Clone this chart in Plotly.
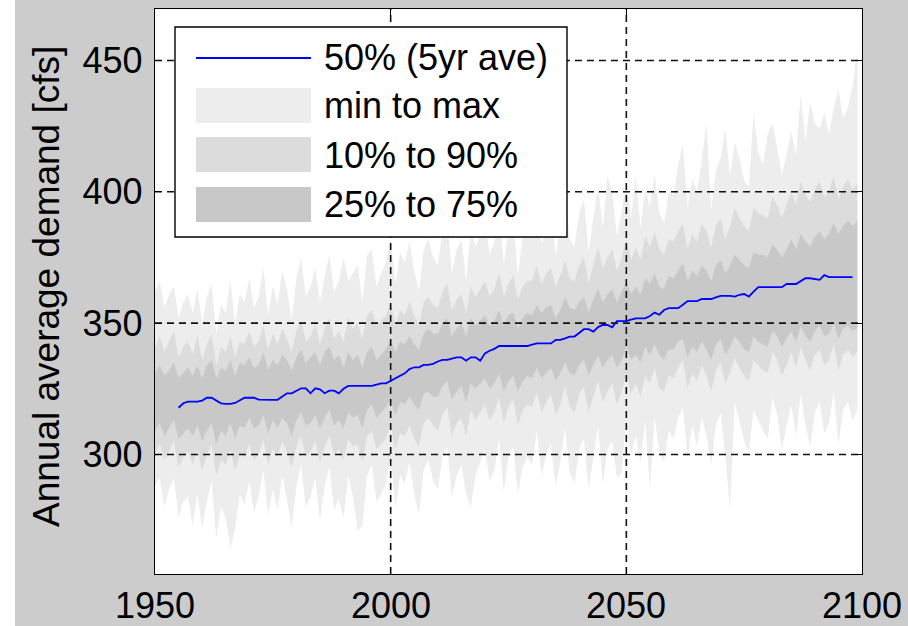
import plotly.graph_objects as go

# ---- data -------------------------------------------------------------
years = list(range(1950, 2100))
median_years = list(range(1955, 2100))

demand_min = [
    288, 291, 280, 287, 291, 276, 282, 284, 273, 285,
    272, 282, 290, 268, 280, 276, 264, 272, 285, 281,
    290, 278, 284, 294, 277, 287, 279, 292, 283, 272,
    288, 296, 280, 284, 291, 275, 288, 295, 279, 283,
    276, 292, 284, 271, 273, 292, 296, 282, 285, 289,
    299, 280, 292, 289, 297, 285, 277, 294, 298, 290,
    287, 299, 303, 284, 292, 296, 285, 280, 292, 297,
    302, 290, 294, 306, 286, 299, 303, 285, 295, 299,
    296, 309, 292, 300, 304, 288, 297, 310, 293, 289,
    302, 306, 287, 299, 311, 289, 302, 305, 291, 293,
    314, 300, 307, 297, 313, 287, 314, 301, 297, 309,
    306, 314, 318, 299, 311, 303, 314, 307, 296, 311,
    316, 300, 279, 320, 313, 305, 301, 317, 313, 309,
    306, 322, 315, 302, 311, 319, 307, 323, 311, 303,
    316, 320, 308, 312, 324, 304, 317, 320, 313, 317,
]

demand_p10 = [
    300, 304, 298, 301, 305, 295, 299, 301, 296, 302,
    294, 300, 304, 292, 298, 296, 302, 294, 300, 299,
    304, 298, 300, 306, 296, 302, 299, 305, 301, 295,
    303, 307, 299, 301, 305, 297, 303, 307, 300, 302,
    298, 306, 303, 304, 297, 307, 309, 302, 304, 306,
    311, 302, 308, 307, 311, 306, 303, 312, 314, 311,
    309, 315, 318, 307, 312, 314, 307, 317, 313, 316,
    319, 313, 316, 322, 312, 318, 321, 311, 317, 319,
    318, 324, 316, 320, 323, 315, 319, 326, 318, 316,
    323, 326, 316, 322, 328, 320, 324, 327, 319, 324,
    331, 323, 327, 322, 330, 327, 333, 325, 324, 330,
    329, 333, 336, 325, 331, 328, 334, 330, 324, 332,
    335, 327, 331, 337, 333, 330, 328, 336, 334, 332,
    331, 339, 336, 330, 334, 339, 333, 341, 336, 332,
    338, 340, 334, 336, 342, 332, 338, 340, 337, 339,
]

demand_p25 = [
    309, 312, 307, 310, 313, 306, 308, 310, 307, 311,
    305, 309, 312, 304, 309, 307, 312, 306, 311, 310,
    314, 310, 311, 315, 308, 313, 310, 314, 312, 307,
    313, 316, 311, 312, 315, 310, 314, 317, 311, 313,
    310, 316, 314, 315, 310, 317, 319, 314, 316, 318,
    321, 315, 320, 319, 322, 319, 317, 323, 324, 322,
    322, 326, 328, 321, 324, 326, 320, 327, 325, 327,
    329, 325, 327, 331, 324, 328, 330, 324, 328, 330,
    329, 333, 329, 331, 333, 328, 331, 335, 331, 330,
    334, 336, 330, 334, 338, 333, 336, 338, 333, 336,
    341, 336, 338, 335, 341, 338, 342, 338, 336, 340,
    340, 343, 344, 337, 341, 339, 343, 340, 336, 342,
    344, 338, 341, 345, 343, 340, 339, 345, 343, 342,
    341, 347, 345, 341, 344, 347, 343, 349, 345, 343,
    347, 349, 345, 346, 350, 344, 348, 349, 347, 348,
]

demand_p75 = [
    331, 334, 330, 332, 335, 329, 331, 333, 330, 334,
    329, 334, 336, 329, 333, 332, 336, 330, 335, 334,
    337, 333, 334, 339, 332, 336, 334, 338, 336, 332,
    337, 340, 335, 337, 339, 334, 339, 341, 336, 338,
    333, 339, 336, 338, 333, 339, 341, 336, 338, 340,
    344, 339, 343, 342, 345, 342, 340, 346, 348, 346,
    346, 350, 352, 345, 348, 350, 345, 352, 349, 351,
    353, 349, 351, 355, 349, 353, 354, 348, 352, 354,
    353, 357, 354, 356, 357, 352, 355, 360, 356, 355,
    358, 360, 354, 359, 363, 358, 361, 363, 358, 362,
    366, 361, 364, 361, 367, 365, 369, 364, 363, 368,
    367, 370, 373, 366, 370, 368, 372, 370, 366, 372,
    374, 369, 372, 376, 374, 372, 371, 377, 376, 376,
    375, 380, 378, 375, 378, 382, 378, 384, 381, 379,
    383, 385, 382, 384, 388, 384, 387, 389, 387, 389,
]

demand_p90 = [
    341, 345, 339, 343, 347, 337, 341, 343, 338, 345,
    336, 342, 346, 334, 341, 339, 345, 337, 343, 342,
    347, 341, 343, 349, 340, 346, 342, 348, 344, 339,
    347, 351, 343, 345, 350, 342, 348, 352, 344, 347,
    343, 352, 348, 350, 344, 353, 355, 349, 351, 353,
    358, 349, 355, 353, 358, 353, 349, 358, 360, 357,
    356, 362, 365, 355, 359, 361, 354, 364, 360, 363,
    366, 360, 363, 369, 360, 365, 368, 359, 364, 366,
    366, 372, 365, 369, 371, 364, 368, 374, 367, 366,
    372, 375, 365, 372, 379, 371, 375, 378, 370, 375,
    382, 374, 379, 374, 383, 379, 385, 378, 376, 382,
    381, 385, 388, 378, 384, 381, 388, 385, 379, 387,
    390, 382, 387, 394, 390, 387, 385, 394, 392, 391,
    390, 398, 395, 390, 395, 400, 395, 404, 399, 396,
    401, 404, 398, 400, 406, 397, 402, 405, 401, 403,
]

demand_max = [
    362, 366, 356, 361, 364, 352, 358, 361, 354, 363,
    350, 360, 365, 346, 357, 354, 366, 350, 361, 358,
    367, 356, 360, 371, 353, 364, 357, 370, 363, 351,
    367, 375, 360, 364, 371, 358, 368, 376, 362, 366,
    375, 366, 369, 372, 358, 376, 378, 364, 369, 373,
    382, 365, 377, 373, 381, 370, 362, 378, 382, 375,
    372, 385, 389, 369, 378, 382, 366, 386, 379, 384,
    389, 376, 381, 394, 372, 386, 390, 368, 383, 387,
    383, 396, 380, 388, 393, 376, 386, 399, 382, 379,
    392, 397, 377, 390, 402, 386, 406, 400, 383, 392,
    404, 390, 406, 386, 401, 394, 407, 392, 388, 400,
    399, 410, 418, 394, 405, 400, 412, 426, 393, 408,
    413, 424, 406, 419, 413, 404, 402, 430, 415, 410,
    422, 426, 417, 406, 414, 423, 414, 437, 419, 434,
    426, 424, 430, 422, 432, 439, 428, 432, 440, 454,
]

# 5-year running average of the 50th percentile
median_5yr = [
    317.8, 319.5, 320.1, 320.1, 320.1,
    320.5, 321.6, 321.6, 320.5, 319.5, 319.3, 319.3, 319.6, 320.6, 321.6,
    321.6, 321.6, 320.9, 320.8, 320.8, 320.8, 320.8, 322.0, 323.3, 323.3,
    324.2, 325.2, 325.2, 323.3, 325.2, 324.8, 323.3, 324.3, 324.3, 323.3,
    325.0, 326.1, 326.1, 326.1, 326.1, 326.1, 326.1, 326.6, 327.1, 327.1,
    328.0, 329.0, 330.0, 330.9, 332.5, 333.2, 333.2, 334.1, 334.1, 334.5,
    335.4, 336.0, 336.0, 336.5, 337.0, 337.0, 335.7, 337.0, 337.0, 335.7,
    338.5, 339.5, 340.2, 341.3, 341.3, 341.3, 341.3, 341.3, 341.3, 341.3,
    341.8, 342.3, 342.3, 342.3, 342.3, 343.6, 343.6, 344.2, 344.9, 344.9,
    346.3, 347.7, 347.7, 346.8, 348.5, 349.3, 349.3, 348.4, 350.8, 350.8,
    350.8, 351.3, 351.8, 351.8, 351.8, 352.7, 354.0, 353.2, 355.0, 355.7,
    355.7, 355.7, 357.0, 358.4, 358.4, 358.4, 359.2, 359.2, 359.2, 359.8,
    360.4, 360.4, 360.4, 360.1, 360.8, 361.1, 360.1, 362.0, 363.7, 363.7,
    363.7, 363.7, 363.7, 363.7, 364.9, 364.9, 364.9, 366.0, 367.1, 367.1,
    366.8, 366.5, 368.3, 367.5, 367.5, 367.5, 367.5, 367.5, 367.5,
]

x_ticks = [1950, 2000, 2050, 2100]
y_ticks = [300, 350, 400, 450]
x_range = [1950, 2100]
y_range = [254.5, 469.6]

legend_labels = ["50% (5yr ave)", "min to max", "10% to 90%", "25% to 75%"]

# ---- styling -------------------------------------------------------------
FONT = "Liberation Sans, Arial, sans-serif"
FIG_BG = "#cccccc"
C_MINMAX = "#ededed"
C_10_90 = "#dcdcdc"
C_25_75 = "#c8c8c8"
C_MEDIAN = "#0000ff"
GRID_DASH = "7px,5px"

W, H = 908, 626
L, R, T, B = 155, 862, 9, 574   # plot area in pixels


def px_x(p):
    return (p - L) / (R - L)


def px_y(p):
    return (B - p) / (B - T)


fig = go.Figure()

bands = [
    (demand_min, demand_max, C_MINMAX),
    (demand_p10, demand_p90, C_10_90),
    (demand_p25, demand_p75, C_25_75),
]
for lower, upper, colour in bands:
    fig.add_trace(go.Scatter(x=years, y=lower, mode="lines",
                             line=dict(width=0, color=colour),
                             hoverinfo="skip", showlegend=False))
    fig.add_trace(go.Scatter(x=years, y=upper, mode="lines", fill="tonexty",
                             fillcolor=colour, line=dict(width=0, color=colour),
                             hoverinfo="skip", showlegend=False))

# dashed grid drawn over the shaded bands
for xv in x_ticks[1:-1]:
    fig.add_trace(go.Scatter(x=[xv, xv], y=y_range, mode="lines",
                             line=dict(color="#111111", width=1.6, dash=GRID_DASH),
                             hoverinfo="skip", showlegend=False))
for yv in y_ticks:
    fig.add_trace(go.Scatter(x=x_range, y=[yv, yv], mode="lines",
                             line=dict(color="#111111", width=1.6, dash=GRID_DASH),
                             hoverinfo="skip", showlegend=False))

fig.add_trace(go.Scatter(x=median_years, y=median_5yr, mode="lines",
                         line=dict(color=C_MEDIAN, width=1.8),
                         hoverinfo="skip", showlegend=False))

axis_common = dict(
    showline=True, linecolor="black", linewidth=1.4, mirror="ticks",
    ticks="inside", ticklen=7, tickwidth=1.4, tickcolor="black",
    showgrid=False, zeroline=False, layer="above traces", automargin=False,
    tickfont=dict(family=FONT, size=36, color="black"),
)

# x tick labels are placed as annotations just under the axis
fig.update_xaxes(range=x_range, tickvals=x_ticks, showticklabels=False,
                 **axis_common)
fig.update_yaxes(range=y_range, tickvals=y_ticks,
                 ticktext=[str(v) for v in y_ticks], ticklabelstandoff=4,
                 **axis_common)

shapes = []
annotations = []

# thin white strip along the left edge of the figure
shapes.append(dict(type="rect", xref="paper", yref="paper",
                   x0=px_x(-2), x1=px_x(15), y0=px_y(H + 2), y1=px_y(-2),
                   fillcolor="white", line=dict(width=0), layer="above"))

for xv in x_ticks:
    annotations.append(dict(text=str(xv), xref="x", yref="paper", x=xv,
                            y=px_y(605), xanchor="center", yanchor="middle",
                            showarrow=False,
                            font=dict(family=FONT, size=36, color="black")))

# legend box
shapes.append(dict(type="rect", xref="paper", yref="paper",
                   x0=px_x(175), x1=px_x(567), y0=px_y(237), y1=px_y(27),
                   fillcolor="white", line=dict(color="black", width=1.4),
                   layer="above"))
shapes.append(dict(type="line", xref="paper", yref="paper",
                   x0=px_x(196), x1=px_x(311), y0=px_y(58), y1=px_y(58),
                   line=dict(color=C_MEDIAN, width=1.8), layer="above"))
swatches = [(88, 123, C_MINMAX), (137, 172, C_10_90), (187, 222, C_25_75)]
for top, bot, colour in swatches:
    shapes.append(dict(type="rect", xref="paper", yref="paper",
                       x0=px_x(196), x1=px_x(311), y0=px_y(bot), y1=px_y(top),
                       fillcolor=colour, line=dict(width=0), layer="above"))

for label, yc in zip(legend_labels, [57.5, 106, 155, 204]):
    annotations.append(dict(text=label, xref="paper", yref="paper",
                            x=px_x(322), y=px_y(yc), xanchor="left",
                            yanchor="middle", showarrow=False,
                            font=dict(family=FONT, size=36, color="black")))

annotations.append(dict(text="Annual average demand [cfs]", xref="paper",
                        yref="paper", x=px_x(46), y=px_y(287), textangle=-90,
                        xanchor="center", yanchor="middle", showarrow=False,
                        font=dict(family=FONT, size=37, color="black")))

fig.update_layout(
    width=W, height=H,
    margin=dict(l=L, r=W - R, t=T, b=H - B, pad=0, autoexpand=False),
    paper_bgcolor=FIG_BG, plot_bgcolor="white",
    showlegend=False,
    shapes=shapes, annotations=annotations,
)

fig.write_html("out.html")
